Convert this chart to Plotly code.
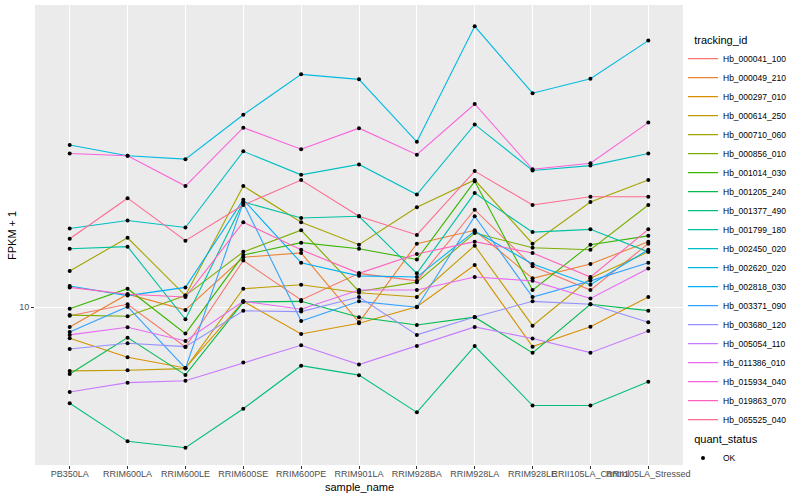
import plotly.graph_objects as go

samples = ["PB350LA", "RRIM600LA", "RRIM600LE", "RRIM600SE", "RRIM600PE", "RRIM901LA",
           "RRIM928BA", "RRIM928LA", "RRIM928LE", "RRII105LA_Control", "RRII105LA_Stressed"]

tracking_ids = ["Hb_000041_100", "Hb_000049_210", "Hb_000297_010", "Hb_000614_250", "Hb_000710_060",
                "Hb_000856_010", "Hb_001014_030", "Hb_001205_240", "Hb_001377_490", "Hb_001799_180",
                "Hb_002450_020", "Hb_002620_020", "Hb_002818_030", "Hb_003371_090", "Hb_003680_120",
                "Hb_005054_110", "Hb_011386_010", "Hb_015934_040", "Hb_019863_070", "Hb_065525_040"]

colors = ["#F8766D", "#EA8331", "#D89000", "#C09B00", "#A3A500", "#7CAE00", "#39B600", "#00BB4E",
          "#00BF7D", "#00C1A3", "#00BFC4", "#00BAE0", "#00B0F6", "#35A2FF", "#9590FF", "#C77CFF",
          "#E76BF3", "#FA62DB", "#FF62BC", "#FF6C91"]

# FPKM + 1 values, one list per tracking_id (order of samples above)
hb_000041_100 = [9.46, 10.2, 7.70, 13.6, 10.5, 12.5, 11.9, 19.0, 13.1, 11.2, 15.2]
hb_000049_210 = [8.79, 10.9, 9.83, 13.9, 14.3, 9.06, 15.2, 16.6, 12.1, 13.3, 15.4]
hb_000297_010 = [8.16, 7.20, 6.71, 10.4, 8.39, 9.0, 10.04, 13.2, 7.72, 8.80, 10.7]
hb_000614_250 = [6.58, 6.61, 6.68, 11.3, 11.6, 11.0, 10.7, 15.0, 8.86, 12.1, 14.4]
hb_000710_060 = [12.7, 15.8, 10.8, 22.2, 17.5, 15.1, 19.3, 23.1, 15.2, 20.0, 23.1]
hb_000856_010 = [9.5, 9.43, 10.8, 14.4, 16.6, 11.1, 11.8, 16.3, 14.8, 14.6, 19.6]
hb_001014_030 = [9.91, 11.3, 8.41, 14.1, 15.3, 14.7, 13.7, 22.9, 11.2, 15.1, 16.0]
hb_001205_240 = [6.45, 8.19, 6.41, 10.35, 10.4, 9.37, 8.90, 9.37, 7.41, 10.2, 9.78]
hb_001377_490 = [5.32, 4.14, 3.97, 5.13, 6.81, 6.40, 5.01, 7.75, 5.24, 5.24, 6.13]
hb_001799_180 = [14.7, 14.9, 9.24, 20.0, 18.0, 18.2, 12.5, 21.2, 16.4, 16.7, 14.4]
hb_002450_020 = [16.8, 17.7, 16.9, 27.9, 23.9, 25.6, 21.0, 33.3, 24.6, 25.4, 27.5]
hb_002620_020 = [29.1, 27.1, 26.5, 35.5, 46.3, 44.8, 29.7, 63.5, 40.9, 45.0, 57.8]
hb_002818_030 = [11.5, 10.8, 11.4, 20.3, 13.4, 12.3, 12.2, 16.5, 13.3, 11.6, 14.6]
hb_003371_090 = [8.50, 10.04, 6.70, 19.9, 9.14, 10.4, 10.0, 18.2, 10.7, 11.9, 13.4]
hb_003680_120 = [7.60, 7.89, 7.72, 9.77, 9.72, 10.7, 8.34, 9.38, 10.4, 10.2, 9.06]
hb_005054_110 = [5.73, 6.09, 6.17, 6.95, 7.79, 6.86, 7.75, 8.79, 8.14, 7.42, 8.56]
hb_011386_010 = [8.34, 8.77, 8.01, 10.4, 9.87, 11.2, 11.2, 12.2, 11.9, 10.6, 12.9]
hb_015934_040 = [27.5, 27.1, 22.2, 32.6, 28.3, 32.5, 27.3, 38.1, 24.8, 25.8, 33.7]
hb_019863_070 = [11.4, 10.9, 10.7, 17.5, 14.6, 12.5, 14.2, 15.4, 14.3, 12.2, 16.7]
hb_065525_040 = [15.7, 20.5, 15.5, 19.6, 23.1, 18.2, 16.1, 24.5, 19.6, 20.7, 20.7]

series = [hb_000041_100, hb_000049_210, hb_000297_010, hb_000614_250, hb_000710_060,
          hb_000856_010, hb_001014_030, hb_001205_240, hb_001377_490, hb_001799_180,
          hb_002450_020, hb_002620_020, hb_002818_030, hb_003371_090, hb_003680_120,
          hb_005054_110, hb_011386_010, hb_015934_040, hb_019863_070, hb_065525_040]

FONT = "Liberation Sans, Arial, sans-serif"

fig = go.Figure()
for name, vals, col in zip(tracking_ids, series, colors):
    fig.add_trace(go.Scatter(x=samples, y=vals, mode="lines", name=name,
                             line=dict(color=col, width=1.1), legend="legend",
                             hoverinfo="skip"))

# all points (quant_status = OK)
px, py = [], []
for vals in series:
    px += samples
    py += vals
fig.add_trace(go.Scatter(x=px, y=py, mode="markers", name="OK", legend="legend2",
                         marker=dict(color="black", size=4, symbol="circle"),
                         hoverinfo="skip"))

fig.update_layout(
    width=800, height=500,
    margin=dict(l=35, r=117, t=5, b=35, autoexpand=False),
    paper_bgcolor="white", plot_bgcolor="#EBEBEB",
    font=dict(family=FONT, size=9, color="#000000"),
    showlegend=True, hovermode=False,
    legend=dict(title=dict(text="\u00a0\u00a0\u00a0tracking_id", font=dict(size=11, color="black")),
                font=dict(size=8.5, color="black"), x=1.0, xanchor="left",
                y=0.946, yanchor="top", itemwidth=30, tracegroupgap=0,
                bgcolor="rgba(0,0,0,0)"),
    legend2=dict(title=dict(text="\u00a0\u00a0\u00a0quant_status", font=dict(size=11, color="black")),
                 font=dict(size=8.5, color="black"), x=1.0, xanchor="left",
                 y=0.078, yanchor="top", itemwidth=30, bgcolor="rgba(0,0,0,0)"),
    xaxis=dict(type="category", categoryorder="array", categoryarray=samples,
               range=[-0.6, len(samples) - 0.4], showgrid=True, gridcolor="white",
               gridwidth=1.1, zeroline=False, showline=False, ticks="outside",
               ticklen=3, tickcolor="#333333", tickangle=0, automargin=False,
               ticklabelstandoff=-3,
               tickfont=dict(size=9, color="#4D4D4D", family=FONT)),
    yaxis=dict(type="log", range=[0.5494, 1.8637], tickvals=[10], ticktext=["10"],
               showgrid=True, gridcolor="white", gridwidth=1.1, zeroline=False,
               showline=False, ticks="outside", ticklen=3, tickcolor="#333333",
               automargin=False,
               tickfont=dict(size=9, color="#4D4D4D", family=FONT)),
    annotations=[
        dict(text="sample_name", xref="paper", yref="paper", x=0.5, y=-0.048,
             xanchor="center", yanchor="middle", showarrow=False,
             font=dict(size=11, color="black", family=FONT)),
        dict(text="FPKM + 1", xref="paper", yref="paper", x=-0.0355, y=0.5,
             xanchor="center", yanchor="middle", showarrow=False, textangle=-90,
             font=dict(size=11, color="black", family=FONT)),
    ],
)

fig.write_html("out.html", config={"displayModeBar": False},
               post_script="document.body.style.margin='0';document.body.style.overflow='hidden';")
